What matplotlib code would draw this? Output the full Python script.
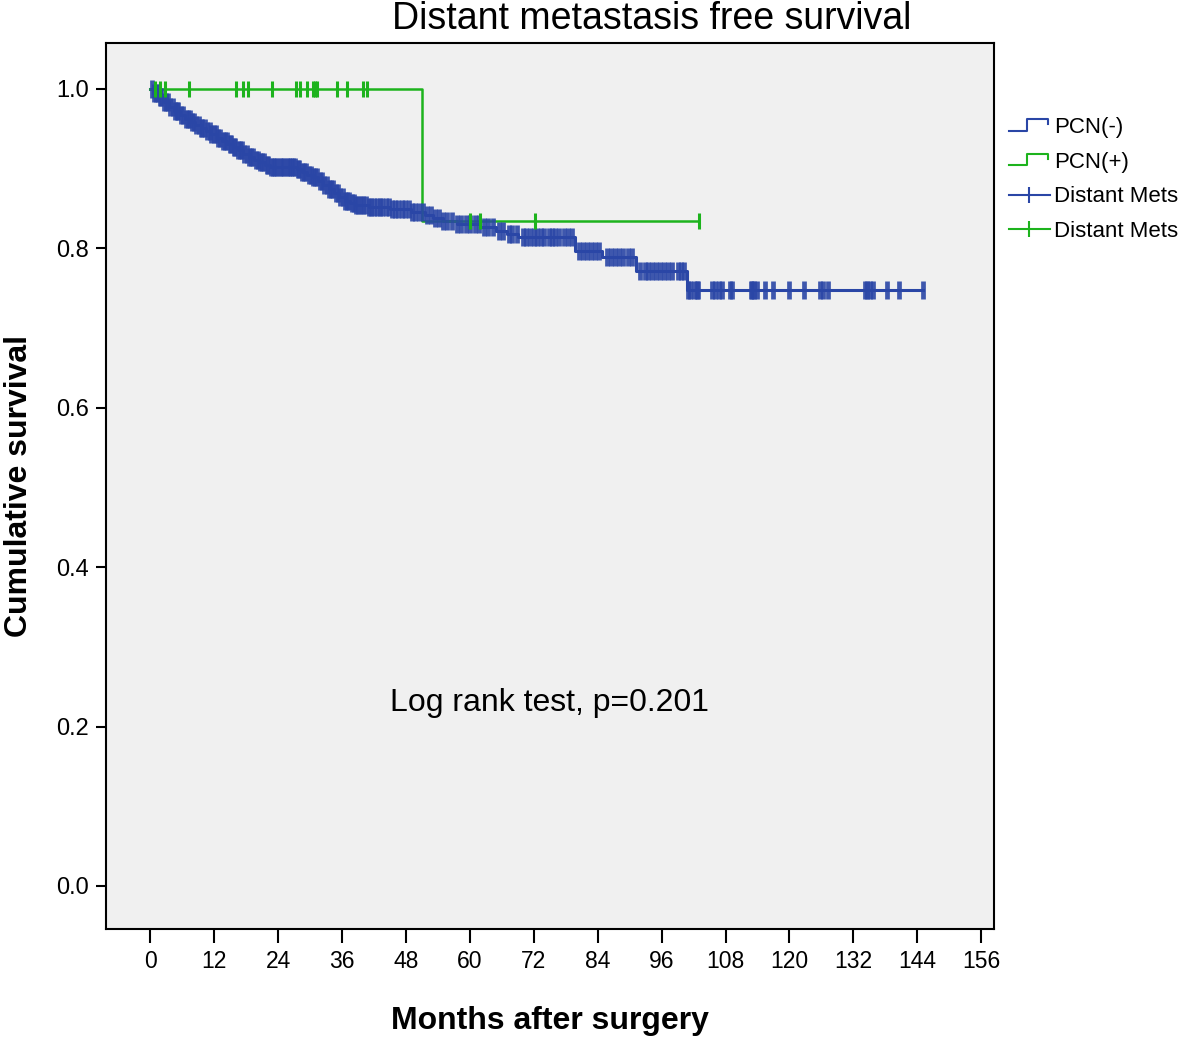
import numpy as np
import matplotlib
matplotlib.use("Agg")
import matplotlib.pyplot as plt
from matplotlib.lines import Line2D
from matplotlib.legend_handler import HandlerBase

# PCN(-) : step points (month, cumulative survival)
blue_t = [0, 0.5, 1.5, 2.5, 3.5, 4.5, 5.5, 6.5, 7.5, 8.5, 9.5, 10.5, 11.5, 12.5,
          13.5, 14.5, 15.5, 16.5, 17.5, 18.5, 19.5, 20.5, 21.5, 22.5, 27.5, 28.5,
          29.5, 30.5, 31.5, 32.5, 33.5, 34.5, 35.5, 36.5, 37.5, 38.5, 41, 45, 49,
          51.5, 53, 55, 57.5, 62, 65, 67, 69, 79.8, 84.8, 91.2, 100.8]
blue_s = [1.0, 0.995, 0.99, 0.984, 0.978, 0.972, 0.967, 0.962, 0.958, 0.955, 0.951,
          0.947, 0.943, 0.939, 0.935, 0.931, 0.927, 0.923, 0.919, 0.915, 0.911,
          0.908, 0.905, 0.902, 0.899, 0.896, 0.892, 0.889, 0.884, 0.879, 0.874,
          0.869, 0.864, 0.860, 0.857, 0.854, 0.852, 0.850, 0.846, 0.842, 0.838,
          0.834, 0.830, 0.827, 0.822, 0.818, 0.814, 0.797, 0.789, 0.771, 0.748]
blue_cens = [0.3, 0.7, 1.0, 1.4, 1.8, 2.1, 2.6, 3.0, 3.3, 3.8, 4.2, 4.6, 5.0, 5.3, 5.8,
             6.2, 6.7, 7.0, 7.4, 7.9, 8.3, 8.6, 9.1, 9.5, 9.8, 10.3, 10.7, 11.2, 11.5,
             11.9, 12.4, 12.8, 13.1, 13.6, 14.0, 14.4, 14.9, 15.2, 15.7, 16.0, 16.5,
             16.9, 17.3, 17.6, 18.1, 18.5, 19.0, 19.3, 19.8, 20.2, 20.6, 21.0, 21.4,
             21.9, 22.2, 22.7, 23.1, 23.5, 23.8, 24.3, 24.7, 25.1, 25.6, 26.0, 26.4,
             26.8, 27.2, 27.7, 28.0, 28.5, 28.9, 29.3, 29.8, 30.1, 30.6, 31.0, 31.4,
             31.9, 32.2, 32.7, 33.1, 33.5, 33.9, 34.4, 34.8, 35.2, 35.6, 36.1, 36.5,
             36.9, 37.4, 37.8, 38.2, 38.7, 39.1, 39.6, 40.0, 40.5, 41.0, 41.4, 42.0,
             42.5, 43.1, 43.6, 44.2, 44.8, 45.3, 46.0, 46.6, 47.2, 47.9, 48.5, 49.2,
             49.8, 50.5, 51.2, 52.0, 52.7, 53.5, 54.3, 55.0, 55.8, 56.6, 57.5, 58.3,
             59.2, 60.0, 61.0, 61.8, 62.7, 63.5, 64.3, 65.5, 66.2, 67.4, 68.0, 68.9,
             70.0, 70.6, 71.3, 72.0, 72.7, 73.3, 74.0, 74.8, 75.5, 76.0, 76.8, 77.6,
             78.4, 79.2, 80.5, 81.3, 82.0, 82.8, 83.5, 84.2, 85.8, 86.5, 87.3, 88.0,
             88.8, 89.6, 90.4, 92.0, 92.8, 93.5, 94.2, 95.0, 95.7, 96.4, 97.2, 98.0,
             99.0, 99.6, 100.2, 100.9, 101.4, 102.0, 102.6, 102.9, 105.5, 106.1,
             106.7, 107.4, 108.9, 109.2, 112.7, 113.0, 113.3, 113.9, 115.5, 117.0,
             119.9, 122.7, 125.8, 126.3, 127.3, 134.2, 134.5, 135.1, 135.7, 138.3,
             140.5, 145.0]

# PCN(+)
green_t = [0, 51.0]
green_s = [1.0, 0.834]
green_cens = [0.9, 1.9, 2.8, 7.3, 16.1, 17.5, 18.4, 22.9, 27.4, 28.2, 29.5, 30.6,
              31.0, 31.4, 35.0, 37.0, 40.0, 40.7, 60.1, 62.0, 72.2, 103.0]

xticks = [0, 12, 24, 36, 48, 60, 72, 84, 96, 108, 120, 132, 144, 156]
yticks = [0.0, 0.2, 0.4, 0.6, 0.8, 1.0]

BLUE = '#2a46a6'
GREEN = '#1db31d'
plt.rcParams['font.family'] = ['Liberation Sans', 'DejaVu Sans']


def surv_at(times, surv, t):
    idx = np.searchsorted(times, t, side='right') - 1
    return np.array(surv)[idx]


class StepHandler(HandlerBase):
    # little step glyph like the SPSS legend
    def create_artists(self, legend, orig_handle, xdescent, ydescent,
                       width, height, fontsize, trans):
        x0, y0 = -xdescent, -ydescent
        xs = [x0, x0 + 0.45 * width, x0 + 0.45 * width, x0 + 0.95 * width, x0 + 0.95 * width]
        ys = [y0 + 0.15 * height, y0 + 0.15 * height, y0 + 0.9 * height,
              y0 + 0.9 * height, y0 + 0.55 * height]
        return [Line2D(xs, ys, color=orig_handle.get_color(), lw=1.5, transform=trans)]


fig = plt.figure(figsize=(11.81, 10.38), dpi=100)
ax = fig.add_axes([106 / 1181, 1 - 929 / 1038, 888 / 1181, 886 / 1038])
ax.set_facecolor('#f0f0f0')

bt = list(blue_t) + [blue_cens[-1]]
bs = list(blue_s) + [blue_s[-1]]
gt = list(green_t) + [green_cens[-1]]
gs = list(green_s) + [green_s[-1]]
lb, = ax.step(bt, bs, where='post', color=BLUE, lw=2.2)
lg, = ax.step(gt, gs, where='post', color=GREEN, lw=1.8)

ax.plot(blue_cens, surv_at(blue_t, blue_s, blue_cens), ls='none', marker='|',
        ms=13, mew=3.4, color=BLUE, alpha=0.9)
ax.plot(green_cens, surv_at(green_t, green_s, green_cens), ls='none', marker='|',
        ms=11, mew=2.2, color=GREEN)

ax.set_xlim(-8.3, 158.4)
ax.set_ylim(-0.054, 1.0577)
ax.set_xticks(xticks)
ax.set_xticklabels([str(x) for x in xticks], fontsize=16.5)
ax.set_yticks(yticks)
ax.set_yticklabels(['%.1f' % y for y in yticks], fontsize=17)
ax.tick_params(axis='x', direction='out', length=10, width=1.5, pad=5)
ax.tick_params(axis='y', direction='out', length=7, width=1.5, pad=5)
for sp in ax.spines.values():
    sp.set_linewidth(1.5)

ax.set_xlabel('Months after surgery', fontsize=23, fontweight='bold', labelpad=24)
ax.set_ylabel('Cumulative survival', fontsize=23, fontweight='bold', labelpad=16)
fig.text(652 / 1181, 1 - 19 / 1038, 'Distant metastasis free survival',
         fontsize=27, ha='center', va='center')
ax.text(75, 0.23, 'Log rank test, p=0.201', fontsize=23, ha='center', va='center')

cb = Line2D([], [], color=BLUE, marker='|', ms=12, mew=1.5, lw=1.5)
cg = Line2D([], [], color=GREEN, marker='|', ms=12, mew=1.5, lw=1.5)
fig.legend([lb, lg, cb, cg], ['PCN(-)', 'PCN(+)', 'Distant Mets', 'Distant Mets'],
           handler_map={lb: StepHandler(), lg: StepHandler()},
           loc='upper left', bbox_to_anchor=(1000 / 1181, 1 - 108 / 1038),
           frameon=False, prop={'size': 16},
           handlelength=1.85, handletextpad=0.2, labelspacing=0.62, borderaxespad=0)

fig.savefig('out.png', dpi=100)
